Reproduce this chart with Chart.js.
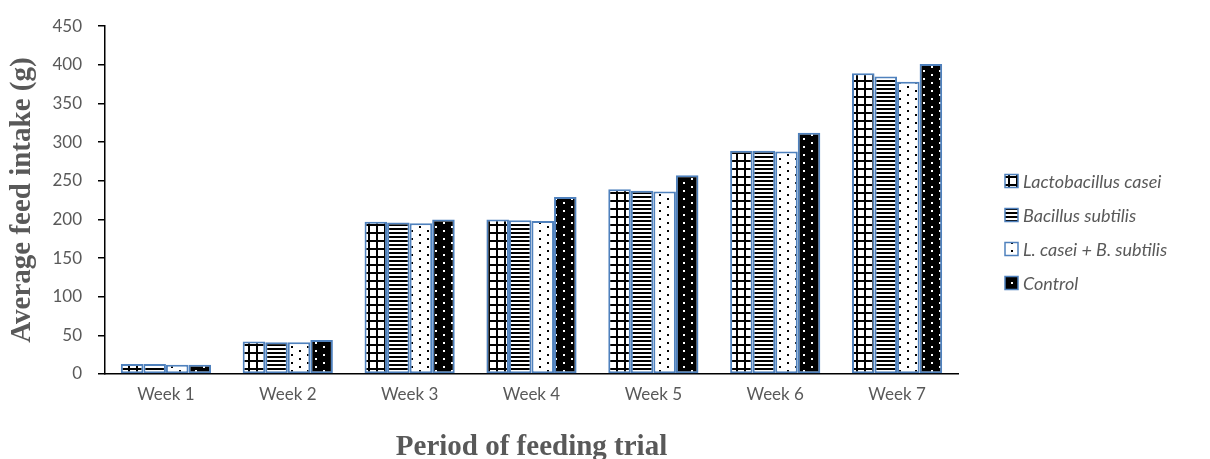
<!DOCTYPE html>
<html>
<head>
<meta charset="utf-8">
<script src="https://cdn.jsdelivr.net/npm/chart.js@4.4.1/dist/chart.umd.min.js"></script>
<style>
  html, body { margin: 0; padding: 0; background: #fff; }
  canvas { display: block; }
</style>
</head>
<body>
<canvas id="c" width="1210" height="459"></canvas>
<script>
// Feed intake per week for each treatment group (g)
const weeks = ['Week 1', 'Week 2', 'Week 3', 'Week 4', 'Week 5', 'Week 6', 'Week 7'];
const seriesNames = ['Lactobacillus casei', 'Bacillus subtilis', 'L. casei + B. subtilis', 'Control'];
const lactobacillusCasei = [13, 42, 197, 200, 239, 289, 389];
const bacillusSubtilis   = [13, 41, 196, 199, 237, 289, 385];
const combinedProbiotic  = [12, 41, 195, 198, 236, 288, 378];
const controlGroup       = [12, 44, 200, 229, 257, 312, 401];
const yMin = 0, yMax = 450, yStep = 50;

const canvas = document.getElementById('c');
const ctx = canvas.getContext('2d');

// Small repeating tiles used as bar fills
function makePattern(w, h, paint) {
  const t = document.createElement('canvas');
  t.width = w; t.height = h;
  const g = t.getContext('2d');
  paint(g);
  return ctx.createPattern(t, 'repeat');
}
const gridFill = makePattern(8, 8, g => {
  g.fillStyle = '#fff'; g.fillRect(0, 0, 8, 8);
  g.fillStyle = '#000'; g.fillRect(0, 0, 8, 2); g.fillRect(0, 0, 2, 8);
});
const stripeFill = makePattern(4, 4, g => {
  g.fillStyle = '#fff'; g.fillRect(0, 0, 4, 4);
  g.fillStyle = '#000'; g.fillRect(0, 0, 4, 2);
});
const dotFill = makePattern(16, 8, g => {
  g.fillStyle = '#fff'; g.fillRect(0, 0, 16, 8);
  g.fillStyle = '#000'; g.fillRect(3, 2, 2, 2); g.fillRect(11, 6, 2, 2);
});
const darkDotFill = makePattern(16, 8, g => {
  g.fillStyle = '#000'; g.fillRect(0, 0, 16, 8);
  g.fillStyle = '#fff'; g.fillRect(3, 2, 2, 2); g.fillRect(11, 6, 2, 2);
});

const barBorder = '#4F81BD';
const textGrey = '#595959';
const fills = [gridFill, stripeFill, dotFill, darkDotFill];
const seriesValues = [lactobacillusCasei, bacillusSubtilis, combinedProbiotic, controlGroup];

// Legend drawn at the right, beside the plot
const sideLegend = {
  id: 'sideLegend',
  afterDraw(chart) {
    const c = chart.ctx;
    const x0 = 1005, yFirst = 181, gap = 34, box = 13;
    c.save();
    chart.data.datasets.forEach((ds, i) => {
      const yc = yFirst + i * gap;
      c.fillStyle = ds.backgroundColor;
      c.fillRect(x0, yc - box / 2, box, box);
      c.strokeStyle = barBorder;
      c.lineWidth = 1.5;
      c.strokeRect(x0, yc - box / 2, box, box);
      c.fillStyle = textGrey;
      c.font = 'italic 18px Lato';
      c.textBaseline = 'middle';
      c.textAlign = 'left';
      c.fillText(ds.label, x0 + 18, yc + 1);
    });
    c.restore();
  }
};

new Chart(canvas, {
  type: 'bar',
  data: {
    labels: weeks,
    datasets: seriesNames.map((name, i) => ({
      label: name,
      data: seriesValues[i],
      backgroundColor: fills[i],
      borderColor: barBorder,
      borderWidth: 2,
      borderSkipped: false,
      categoryPercentage: 0.74,
      barPercentage: 1.0
    }))
  },
  options: {
    responsive: false,
    animation: false,
    layout: { padding: { top: 25, right: 252, bottom: 0, left: 0 } },
    plugins: { legend: { display: false }, tooltip: { enabled: false } },
    scales: {
      x: {
        grid: { display: false },
        border: { display: true, color: '#000', width: 1.5 },
        ticks: { color: textGrey, font: { family: 'Lato', size: 17 }, padding: 2 },
        title: {
          display: true, text: 'Period of feeding trial', color: textGrey,
          font: { family: 'Liberation Serif', size: 29, weight: 'bold', lineHeight: 0.8 },
          padding: { top: 0, bottom: 0 }
        },
        afterFit(s) { s.height = 85; }
      },
      y: {
        min: yMin, max: yMax,
        ticks: { stepSize: yStep, color: textGrey, font: { family: 'Lato', size: 17 }, padding: 16 },
        grid: { drawOnChartArea: false, drawTicks: true, tickLength: 7, color: '#000', lineWidth: 1.5 },
        border: { display: true, color: '#000', width: 1.5 },
        title: {
          display: true, text: 'Average feed intake (g)', color: textGrey,
          font: { family: 'Liberation Serif', size: 29, weight: 'bold', lineHeight: 1 },
          padding: { top: 8, bottom: 0 }
        },
        afterFit(s) { s.width = 105; }
      }
    }
  },
  plugins: [sideLegend]
});
</script>
</body>
</html>
